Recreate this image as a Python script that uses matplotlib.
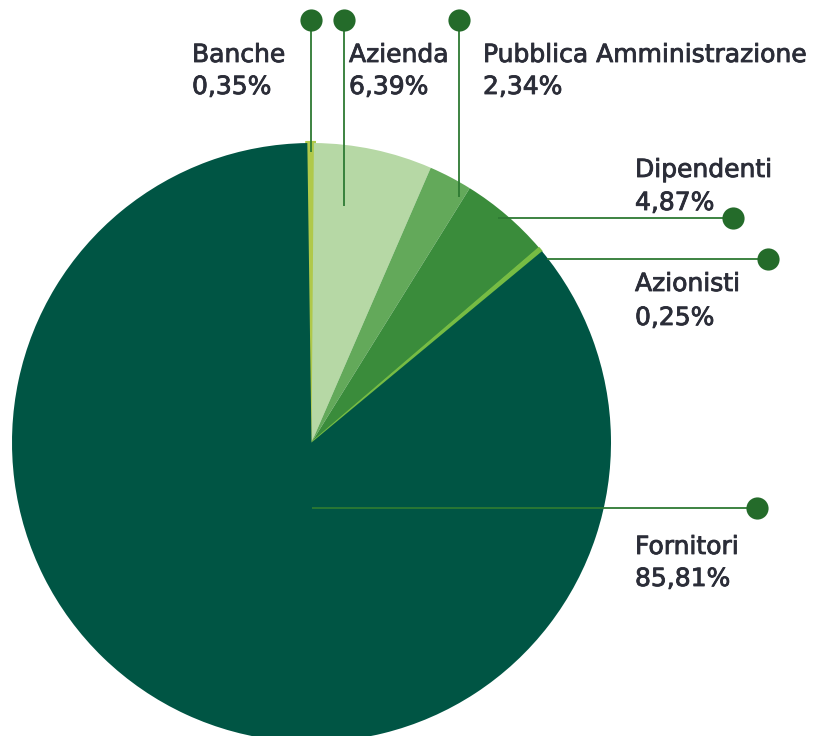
import matplotlib
matplotlib.use("Agg")
import matplotlib.pyplot as plt
import matplotlib.patheffects as pe

categories = ["Banche", "Azienda", "Pubblica Amministrazione", "Dipendenti", "Azionisti", "Fornitori"]
values = [0.35, 6.39, 2.34, 4.87, 0.25, 85.81]
value_labels = ["0,35%", "6,39%", "2,34%", "4,87%", "0,25%", "85,81%"]
colors = ["#b0c94a", "#b6d8a5", "#63a95a", "#3a8c3b", "#76bc43", "#005544"]

W, H = 814, 736
fig = plt.figure(figsize=(W / 100, H / 100), dpi=100)
ax = fig.add_axes([0, 0, 1, 1])

cx, cy, r = 311.5, H - 442.5, 299.5
wedges, _ = ax.pie(values, colors=colors, startangle=90.8, counterclock=False,
                   center=(cx, cy), radius=r, frame=True,
                   wedgeprops=dict(linewidth=0))
# thin slices are drawn with a small outline of their own colour
wedges[0].set_edgecolor(colors[0]); wedges[0].set_linewidth(3.0)
wedges[4].set_edgecolor(colors[4]); wedges[4].set_linewidth(1.0)
ax.set_xlim(0, W)
ax.set_ylim(0, H)
ax.set_aspect("equal")
ax.axis("off")

line_col = "#2d7a33"
dot_col = "#246b2a"
text_col = "#2b2d38"

# leader lines: (inner point, dot point) in pixel coords (y from top)
leaders = [
    ((311, 152), (311, 20)),
    ((344, 206), (344, 20)),
    ((459, 197), (459, 20)),
    ((498, 218), (733, 218)),
    ((547, 259), (768, 259)),
    ((312, 508), (757, 508)),
]
# label anchor: left x, baseline of first line, baseline of second line
label_pos = [(192, 62, 94), (349, 62, 94), (483, 62, 94),
             (635, 177, 210), (635, 291, 325), (635, 554, 586)]

for (p0, p1), (lx, b1, b2), name, vl in zip(leaders, label_pos, categories, value_labels):
    ax.plot([p0[0], p1[0]], [H - p0[1], H - p1[1]], color=line_col, lw=1.3,
            solid_capstyle="butt", zorder=3)
    ax.scatter([p1[0]], [H - p1[1]], s=255, color=dot_col, zorder=4, linewidths=0)
    for txt, b in ((name, b1), (vl, b2)):
        ax.text(lx, H - b, txt, ha="left", va="baseline", fontsize=18,
                family="DejaVu Sans", color=text_col,
                path_effects=[pe.withStroke(linewidth=0.6, foreground=text_col)])

fig.savefig("out.png", dpi=100)
